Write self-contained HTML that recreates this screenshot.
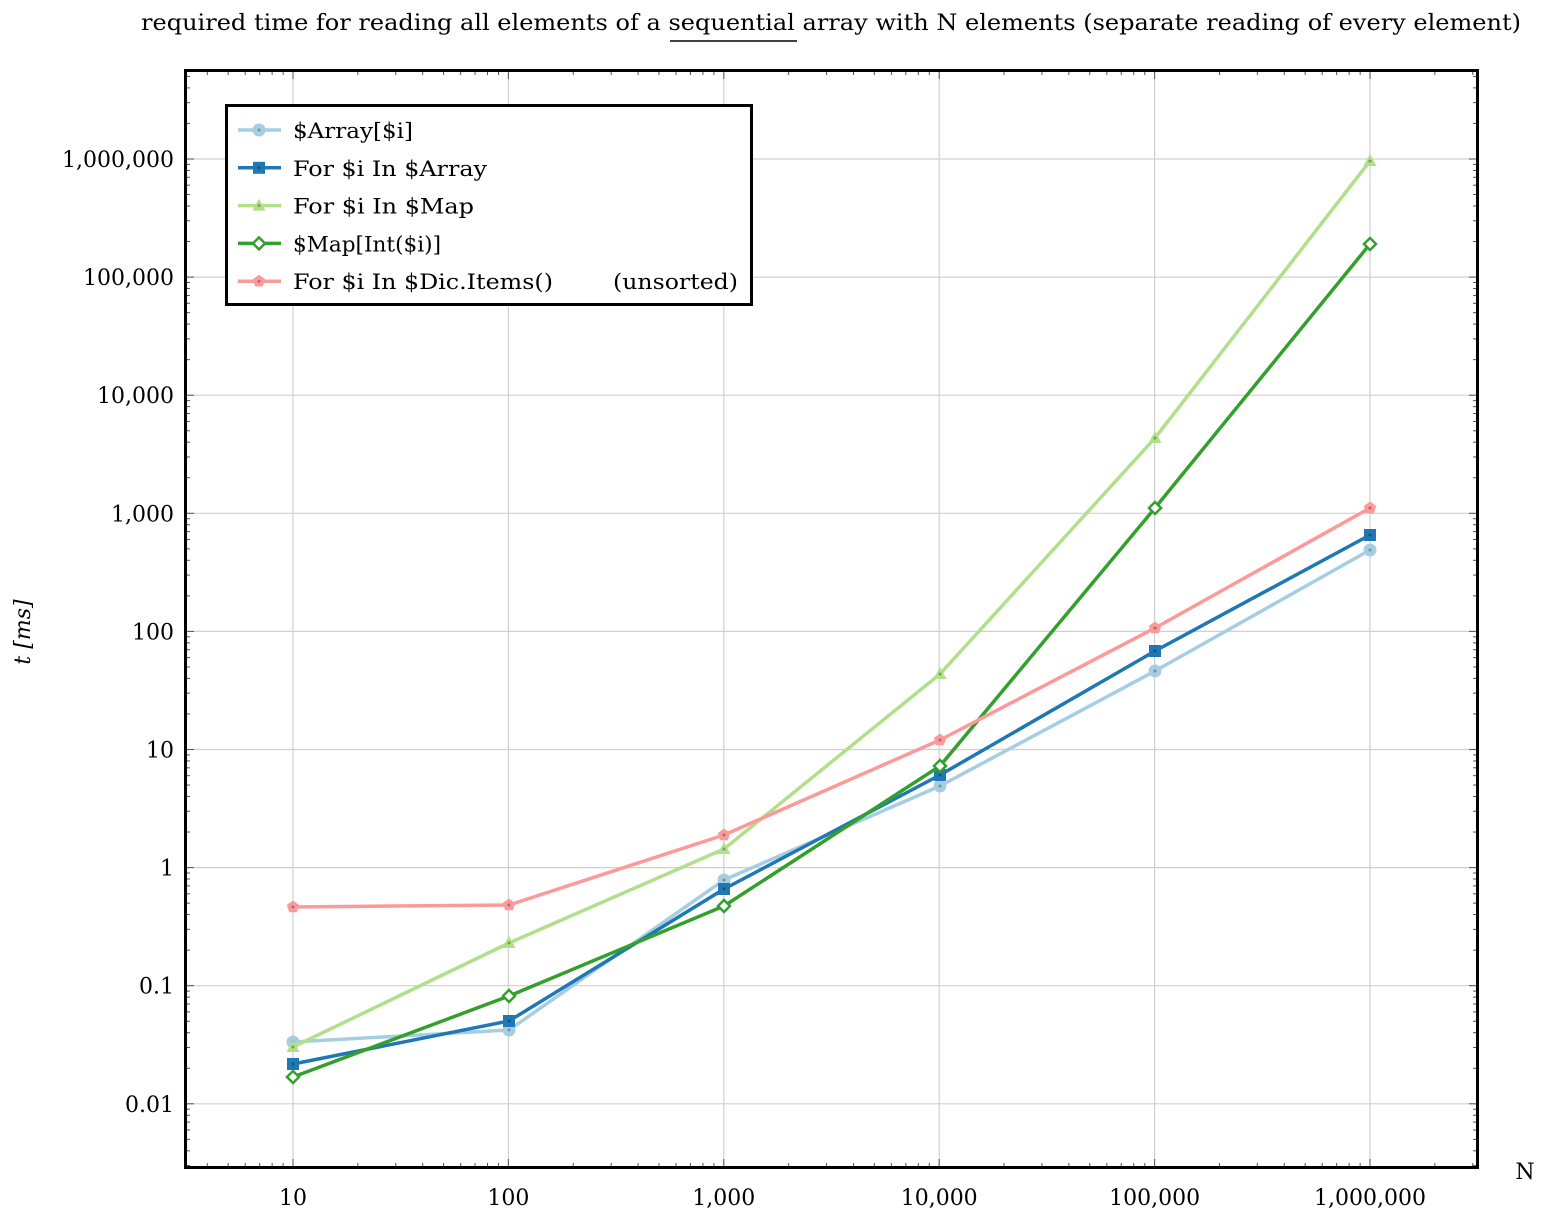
<!DOCTYPE html>
<html><head><meta charset="utf-8"><style>
html,body{margin:0;padding:0;background:#fff;}
svg{display:block;font-family:"DejaVu Serif","Liberation Serif",serif;}
</style></head><body>
<svg id="s" width="1546" height="1213" viewBox="0 0 1546 1213" xmlns="http://www.w3.org/2000/svg">
<rect width="1546" height="1213" fill="#fff"/>
<text x="141" y="30" font-size="22" textLength="1380" lengthAdjust="spacingAndGlyphs">required time for reading all elements of a sequential array with N elements (separate reading of every element)</text>
<line x1="670" y1="41" x2="797" y2="41" stroke="#000" stroke-width="1.5"/>
<g id="grid" stroke="#d0d0d0" stroke-width="1.2"></g>
<g id="ticks" stroke="#555" stroke-width="1"></g>
<g id="labels" font-size="22"></g>
<g id="series"></g>
<rect x="185.5" y="70.5" width="1292" height="1097" fill="none" stroke="#000" stroke-width="3"/>
<text transform="translate(30,632) rotate(-90)" font-size="22" text-anchor="middle" font-style="italic">t [ms]</text>
<text x="1525" y="1179" font-size="22" text-anchor="middle">N</text>
<g id="legend">
<rect x="226.5" y="105.5" width="525" height="199" fill="#fff" stroke="#000" stroke-width="3"/>
</g>
</svg>
<script>
const NS="http://www.w3.org/2000/svg";
function el(p,t,a,txt){const e=document.createElementNS(NS,t);for(const k in a)e.setAttribute(k,a[k]);if(txt)e.textContent=txt;document.querySelector(p).appendChild(e);return e;}
const X=d=>293+(d-1)*215.4;
const Y=l=>159+(6-l)*118.1;
const L=186,R=1477,T=71,B=1167;
for(let d=1;d<=6;d++){el("#grid","line",{x1:X(d),x2:X(d),y1:T,y2:B});}
for(let l=-2;l<=6;l++){el("#grid","line",{x1:L,x2:R,y1:Y(l),y2:Y(l)});}
for(let d=0;d<=7;d++)for(let m=1;m<10;m++){const x=X(d+Math.log10(m));if(x<L||x>R)continue;const len=m==1?8:4;
 el("#ticks","line",{x1:x,x2:x,y1:B,y2:B-len});el("#ticks","line",{x1:x,x2:x,y1:T,y2:T+len});}
for(let l=-3;l<=7;l++)for(let m=1;m<10;m++){const y=Y(l+Math.log10(m));if(y<T||y>B)continue;const len=m==1?8:4;
 el("#ticks","line",{y1:y,y2:y,x1:L,x2:L+len});el("#ticks","line",{y1:y,y2:y,x1:R,x2:R-len});}
const xl=["10","100","1,000","10,000","100,000","1,000,000"];
xl.forEach((t,i)=>el("#labels","text",{x:X(i+1),y:1205,"text-anchor":"middle"},t));
const yl=["0.01","0.1","1","10","100","1,000","10,000","100,000","1,000,000"];
yl.forEach((t,i)=>el("#labels","text",{x:174,y:Y(i-2)+8,"text-anchor":"end"},t));
const xs=[293,509,724,940,1155,1370];
const S=[
 {c:"#a6cee3",m:"o",y:[1042,1030,880,786,671,550],n:"$Array[$i]",w:120},
 {c:"#1f78b4",m:"s",y:[1064,1021,889,775,651,535],n:"For $i In $Array",w:194},
 {c:"#b2df8a",m:"t",y:[1047,943,849,674,438,161],n:"For $i In $Map",w:181},
 {c:"#33a02c",m:"d",y:[1077,996,906,766,508,244],n:"$Map[Int($i)]",w:148},
 {c:"#fb9a99",m:"p",y:[907,905,835,740,628,508],n:"For $i In $Dic.Items()",w:260},
];
function marker(g,m,x,y,c){
 if(m=="o")el(g,"circle",{cx:x,cy:y,r:5.5,fill:c,stroke:c,"stroke-width":2});
 if(m=="s")el(g,"rect",{x:x-6,y:y-6,width:12,height:12,fill:c});
 if(m=="t")el(g,"polygon",{points:`${x},${y-7} ${x-6.5},${y+5} ${x+6.5},${y+5}`,fill:c});
 if(m=="d")el(g,"polygon",{points:`${x},${y-6} ${x+6},${y} ${x},${y+6} ${x-6},${y}`,fill:"#fff",stroke:c,"stroke-width":2.5});
 if(m=="p"){let p=[];for(let k=0;k<5;k++){const a=-Math.PI/2+k*2*Math.PI/5;p.push((x+6.5*Math.cos(a))+","+(y+6.5*Math.sin(a)));}el(g,"polygon",{points:p.join(" "),fill:c});}
 if(m!="d")el(g,"circle",{cx:x,cy:y,r:1.5,fill:"rgba(0,0,0,0.3)"});
}
S.forEach((s,i)=>{
 el("#series","polyline",{points:xs.map((x,j)=>x+","+s.y[j]).join(" "),fill:"none",stroke:s.c,"stroke-width":3.5,"stroke-linejoin":"round"});
 xs.forEach((x,j)=>marker("#series",s.m,x,s.y[j],s.c));
 const ly=130+i*37.8;
 el("#legend","line",{x1:238,x2:281,y1:ly,y2:ly,stroke:s.c,"stroke-width":3.5});
 marker("#legend",s.m,259,ly,s.c);
 el("#legend","text",{x:293,y:ly+8,"font-size":21,textLength:s.w,lengthAdjust:"spacingAndGlyphs"},s.n);
});
el("#legend","text",{x:613,y:281+8,"font-size":21,textLength:125,lengthAdjust:"spacingAndGlyphs"},"(unsorted)");
</script>
</body></html>
